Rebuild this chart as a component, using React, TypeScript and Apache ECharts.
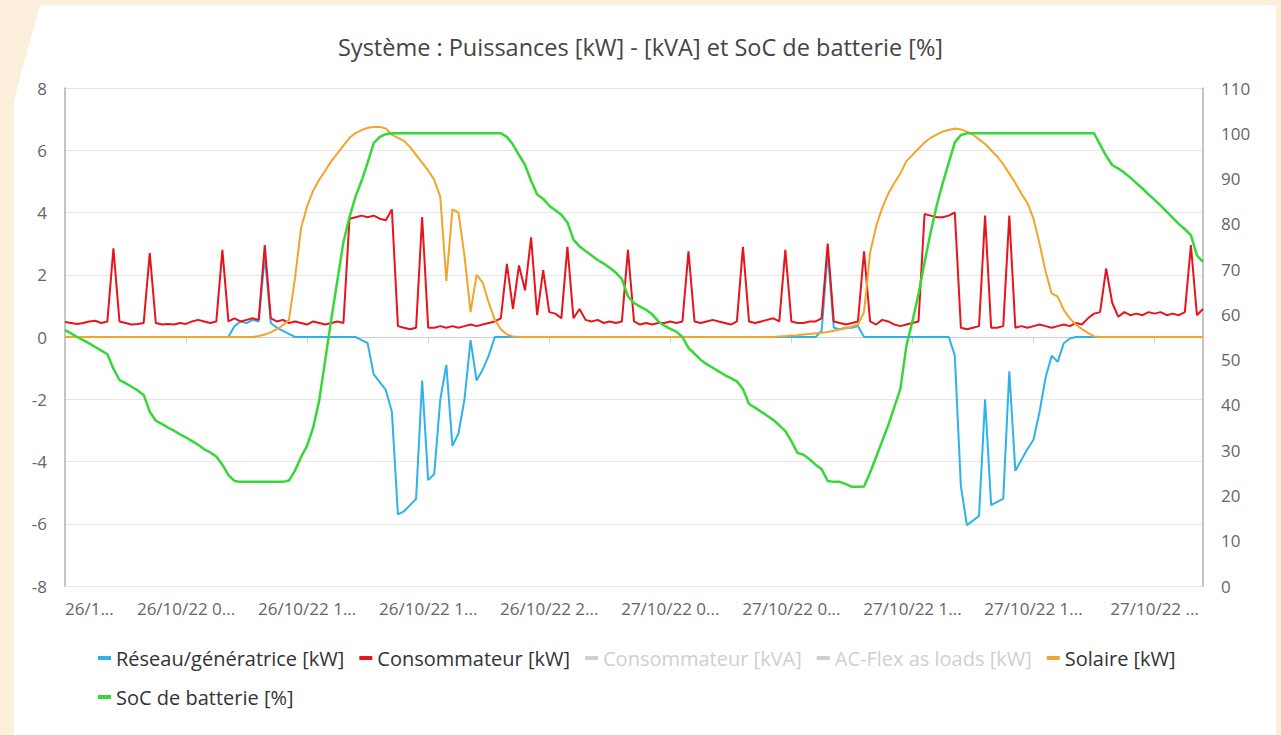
import React, { useEffect, useRef } from "react";
import * as echarts from "echarts";

const chartTitle = "Système : Puissances [kW] - [kVA] et SoC de batterie [%]";

const seriesNames = [
  "Réseau/génératrice [kW]",
  "Consommateur [kW]",
  "Consommateur [kVA]",
  "AC-Flex as loads [kW]",
  "Solaire [kW]",
  "SoC de batterie [%]",
];

const xTickLabels = [
  "26/1...",
  "26/10/22 0...",
  "26/10/22 1...",
  "26/10/22 1...",
  "26/10/22 2...",
  "27/10/22 0...",
  "27/10/22 0...",
  "27/10/22 1...",
  "27/10/22 1...",
  "27/10/22 ...",
];

const leftTicks = { min: -8, max: 8, interval: 2 };
const rightTicks = { min: 0, max: 110, interval: 10 };

// 15-minute timestamps, 26/10/22 00:00 -> 27/10/22 23:00
const pad = (n: number) => (n < 10 ? "0" + n : "" + n);
const times: string[] = [];
for (let i = 0; i < 189; i++) {
  const h = Math.floor(i / 4);
  const day = h < 24 ? 26 : 27;
  times.push(`${day}/10/22 ${pad(h % 24)}:${pad((i % 4) * 15)}`);
}

const reseau = [
  0, 0, 0, 0, 0, 0, 0, 0, 0, 0,
  0, 0, 0, 0, 0, 0, 0, 0, 0, 0,
  0, 0, 0, 0, 0, 0, 0, 0, 0.35, 0.5,
  0.45, 0.55, 0.5, 2.6, 0.45, 0.3, 0.2, 0.1, 0, 0,
  0, 0, 0, 0, 0, 0, 0, 0, 0, -0.1,
  -0.2, -1.2, -1.45, -1.7, -2.4, -5.7, -5.6, -5.4, -5.2, -1.4,
  -4.6, -4.4, -2.0, -0.9, -3.5, -3.1, -2.0, -0.1, -1.4, -1.05,
  -0.6, 0, 0, 0, 0, 0, 0, 0, 0, 0,
  0, 0, 0, 0, 0, 0, 0, 0, 0, 0,
  0, 0, 0, 0, 0, 0, 0, 0, 0, 0,
  0, 0, 0, 0, 0, 0, 0, 0, 0, 0,
  0, 0, 0, 0, 0, 0, 0, 0, 0, 0,
  0, 0, 0, 0, 0, 0.2, 2.7, 0.3, 0.25, 0.3,
  0.3, 0.35, 0, 0, 0, 0, 0, 0, 0, 0,
  0, 0, 0, 0, 0, 0, 0, -0.6, -4.8, -6.05,
  -5.9, -5.75, -2.0, -5.4, -5.3, -5.2, -1.1, -4.3, -3.95, -3.6,
  -3.3, -2.4, -1.3, -0.6, -0.8, -0.2, -0.05, 0, 0, 0,
  0, 0, 0, 0, 0, 0, 0, 0, 0, 0,
  0, 0, 0, 0, 0, 0, 0, 0, 0,
];

const consoKW = [
  0.48, 0.45, 0.42, 0.45, 0.5, 0.52, 0.45, 0.5, 2.85, 0.5,
  0.45, 0.4, 0.42, 0.45, 2.7, 0.45, 0.4, 0.42, 0.4, 0.45,
  0.42, 0.5, 0.55, 0.5, 0.45, 0.5, 2.8, 0.5, 0.6, 0.5,
  0.55, 0.6, 0.55, 2.95, 0.6, 0.5, 0.55, 0.45, 0.5, 0.45,
  0.4, 0.5, 0.45, 0.4, 0.45, 0.5, 0.45, 3.8, 3.85, 3.9,
  3.85, 3.9, 3.8, 3.75, 4.1, 0.35, 0.3, 0.25, 0.3, 3.85,
  0.3, 0.3, 0.35, 0.3, 0.35, 0.3, 0.35, 0.4, 0.35, 0.4,
  0.45, 0.5, 0.6, 2.35, 0.9, 2.3, 1.5, 3.2, 0.7, 2.15,
  0.8, 0.75, 0.6, 2.9, 0.6, 0.9, 0.55, 0.5, 0.55, 0.45,
  0.5, 0.45, 0.5, 2.8, 0.5, 0.4, 0.45, 0.4, 0.45, 0.45,
  0.5, 0.45, 0.5, 2.75, 0.5, 0.45, 0.5, 0.55, 0.5, 0.45,
  0.4, 0.5, 2.9, 0.5, 0.45, 0.5, 0.55, 0.6, 0.5, 2.8,
  0.5, 0.45, 0.45, 0.5, 0.5, 0.6, 3.0, 0.5, 0.45, 0.4,
  0.45, 0.5, 2.75, 0.5, 0.4, 0.55, 0.5, 0.4, 0.35, 0.4,
  0.45, 0.5, 3.95, 3.9, 3.85, 3.85, 3.9, 4.0, 0.3, 0.25,
  0.3, 0.35, 3.9, 0.3, 0.3, 0.35, 3.9, 0.3, 0.35, 0.3,
  0.35, 0.4, 0.35, 0.3, 0.35, 0.4, 0.35, 0.45, 0.4, 0.6,
  0.75, 0.8, 2.2, 1.1, 0.65, 0.8, 0.7, 0.75, 0.7, 0.8,
  0.75, 0.8, 0.7, 0.75, 0.7, 0.8, 2.95, 0.7, 0.9,
];

const consoKVA: number[] = [];
const acFlex: number[] = [];

const solaire = [
  0, 0, 0, 0, 0, 0, 0, 0, 0, 0,
  0, 0, 0, 0, 0, 0, 0, 0, 0, 0,
  0, 0, 0, 0, 0, 0, 0, 0, 0, 0,
  0, 0, 0.03, 0.08, 0.15, 0.25, 0.38, 0.55, 1.9, 3.5,
  4.2, 4.7, 5.05, 5.35, 5.65, 5.9, 6.15, 6.4, 6.55, 6.65,
  6.72, 6.75, 6.75, 6.7, 6.5, 6.4, 6.3, 6.1, 5.85, 5.6,
  5.35, 5.05, 4.5, 1.8, 4.1, 4.0, 2.6, 0.8, 2.0, 1.75,
  1.1, 0.55, 0.25, 0.08, 0.02, 0, 0, 0, 0, 0,
  0, 0, 0, 0, 0, 0, 0, 0, 0, 0,
  0, 0, 0, 0, 0, 0, 0, 0, 0, 0,
  0, 0, 0, 0, 0, 0, 0, 0, 0, 0,
  0, 0, 0, 0, 0, 0, 0, 0, 0.02, 0.03,
  0.05, 0.06, 0.08, 0.1, 0.12, 0.14, 0.16, 0.2, 0.24, 0.28,
  0.33, 0.4, 0.8, 2.7, 3.55, 4.15, 4.6, 4.95, 5.25, 5.65,
  5.85, 6.05, 6.25, 6.4, 6.5, 6.6, 6.65, 6.7, 6.67, 6.6,
  6.5, 6.35, 6.2, 6.0, 5.8, 5.55, 5.25, 4.95, 4.6, 4.3,
  3.8, 3.0, 2.1, 1.4, 1.3, 0.87, 0.6, 0.4, 0.25, 0.13,
  0.02, 0, 0, 0, 0, 0, 0, 0, 0, 0,
  0, 0, 0, 0, 0, 0, 0, 0, 0,
];

const soc = [
  56.5, 55.8, 55, 54.3, 53.6, 52.8, 52, 51.2, 48, 45.5,
  44.8, 44, 43.2, 42.2, 38.5, 36.5, 35.8, 35, 34.3, 33.5,
  32.8, 32, 31.2, 30.2, 29.5, 28.6, 26.8, 24.5, 23.2, 23,
  23, 23, 23, 23, 23, 23, 23, 23.3, 25.5, 28.5,
  31, 35, 41, 50, 59, 67.5, 76, 81.5, 86, 89.5,
  93.5, 97.8, 99.2, 99.8, 100, 100, 100, 100, 100, 100,
  100, 100, 100, 100, 100, 100, 100, 100, 100, 100,
  100, 100, 100, 99.2, 97.5, 95.2, 93, 89.5, 86.5, 85.5,
  84, 83, 82, 80.3, 76.5, 75, 74, 73, 72, 71.2,
  70.3, 69.2, 67.8, 64, 62.5, 61.7, 61, 60, 58.5, 57.5,
  56.8, 56.2, 55, 52.6, 51.3, 50, 49, 48.2, 47.4, 46.6,
  45.9, 45.2, 43.5, 40.2, 39.4, 38.5, 37.6, 36.7, 35.5, 34.2,
  32, 29.4, 29, 28, 26.8, 25.8, 23.2, 23, 23, 22.5,
  21.9, 21.9, 22, 25, 28.5, 32, 35.5, 39.5, 43.5, 53,
  58.5, 64.5, 71.5, 78, 84, 89, 93.5, 98, 99.6, 100,
  100, 100, 100, 100, 100, 100, 100, 100, 100, 100,
  100, 100, 100, 100, 100, 100, 100, 100, 100, 100,
  100, 97.5, 95, 93, 92.2, 91.3, 90.2, 89, 87.8, 86.5,
  85.3, 84, 82.7, 81.3, 80, 78.8, 77.5, 73, 71.6,
];

const colors = ["#2db3ea", "#e8141c", "#b9b9b9", "#b9b9b9", "#f2a52b", "#36d838"];
const FONT = "'Open Sans', 'Noto Sans', sans-serif";

export default function App() {
  const ref = useRef<HTMLDivElement>(null);

  useEffect(() => {
    if (!ref.current) return;
    const chart = echarts.init(ref.current, undefined, { renderer: "svg" });
    const dataSets = [reseau, consoKW, consoKVA, acFlex, solaire, soc];
    const option: any = {
      animation: false,
      textStyle: { fontFamily: FONT },
      title: {
        text: chartTitle,
        left: "center",
        top: 30,
        textStyle: { fontFamily: FONT, fontSize: 23.5, fontWeight: "normal", color: "#444" },
      },
      grid: { left: 65, right: 78, top: 88, bottom: 149, containLabel: false },
      legend: {
        left: 93,
        top: 641,
        width: 1120,
        icon: "rect",
        itemWidth: 13,
        itemHeight: 4,
        itemGap: 15,
        textStyle: { fontFamily: FONT, fontSize: 20, color: "#333", lineHeight: 24 },
        inactiveColor: "#cfcfcf",
        data: seriesNames,
        selected: {
          "Consommateur [kVA]": false,
          "AC-Flex as loads [kW]": false,
        },
      },
      xAxis: {
        type: "category",
        data: times,
        boundaryGap: false,
        axisLine: { show: true, lineStyle: { color: "#cfcfcf", width: 1 } },
        axisTick: { show: true, interval: 19, length: 6, lineStyle: { color: "#cfcfcf" } },
        axisLabel: {
          interval: 19,
          color: "#666",
          fontSize: 17,
          margin: 14,
          fontFamily: FONT,
          alignMinLabel: "left",
          formatter: (_v: string, idx: number) => xTickLabels[Math.round(idx / 20)] ?? "",
        },
        splitLine: { show: false },
      },
      yAxis: [
        {
          type: "value",
          min: leftTicks.min,
          max: leftTicks.max,
          interval: leftTicks.interval,
          axisLine: { show: true, lineStyle: { color: "#b0b0b0", width: 1.5 } },
          axisTick: { show: false },
          axisLabel: { color: "#666", fontSize: 17, margin: 18, fontFamily: FONT },
          splitLine: { show: true, lineStyle: { color: "#e6e6e6", width: 1 } },
        },
        {
          type: "value",
          position: "right",
          min: rightTicks.min,
          max: rightTicks.max,
          interval: rightTicks.interval,
          axisLine: { show: true, lineStyle: { color: "#b0b0b0", width: 1.5 } },
          axisTick: { show: false },
          axisLabel: { color: "#666", fontSize: 17, margin: 18, fontFamily: FONT },
          splitLine: { show: false },
        },
      ],
      series: seriesNames.map((name, k) => ({
        name,
        type: "line",
        yAxisIndex: k === 5 ? 1 : 0,
        data: dataSets[k],
        showSymbol: false,
        symbol: "none",
        color: colors[k],
        lineStyle: { color: colors[k], width: k === 5 ? 2.5 : 2 },
        emphasis: { disabled: true },
        z: 2 + k,
      })),
    };
    chart.setOption(option);
    return () => chart.dispose();
  }, []);

  return (
    <div style={{ position: "fixed", left: 0, top: 0, width: 1281, height: 735, background: "#fcefdb", overflow: "hidden" }}>
      <div
        style={{
          position: "absolute",
          left: 14,
          top: 5,
          width: 1262,
          height: 740,
          background: "#ffffff",
          boxShadow: "0 0 0 1px #eee6d8",
          clipPath: "polygon(26px 0, 100% 0, 100% 100%, 0 100%, 0 95px)",
        }}
      />
      <div ref={ref} style={{ position: "absolute", left: 0, top: 0, width: 1281, height: 735 }} />
    </div>
  );
}
